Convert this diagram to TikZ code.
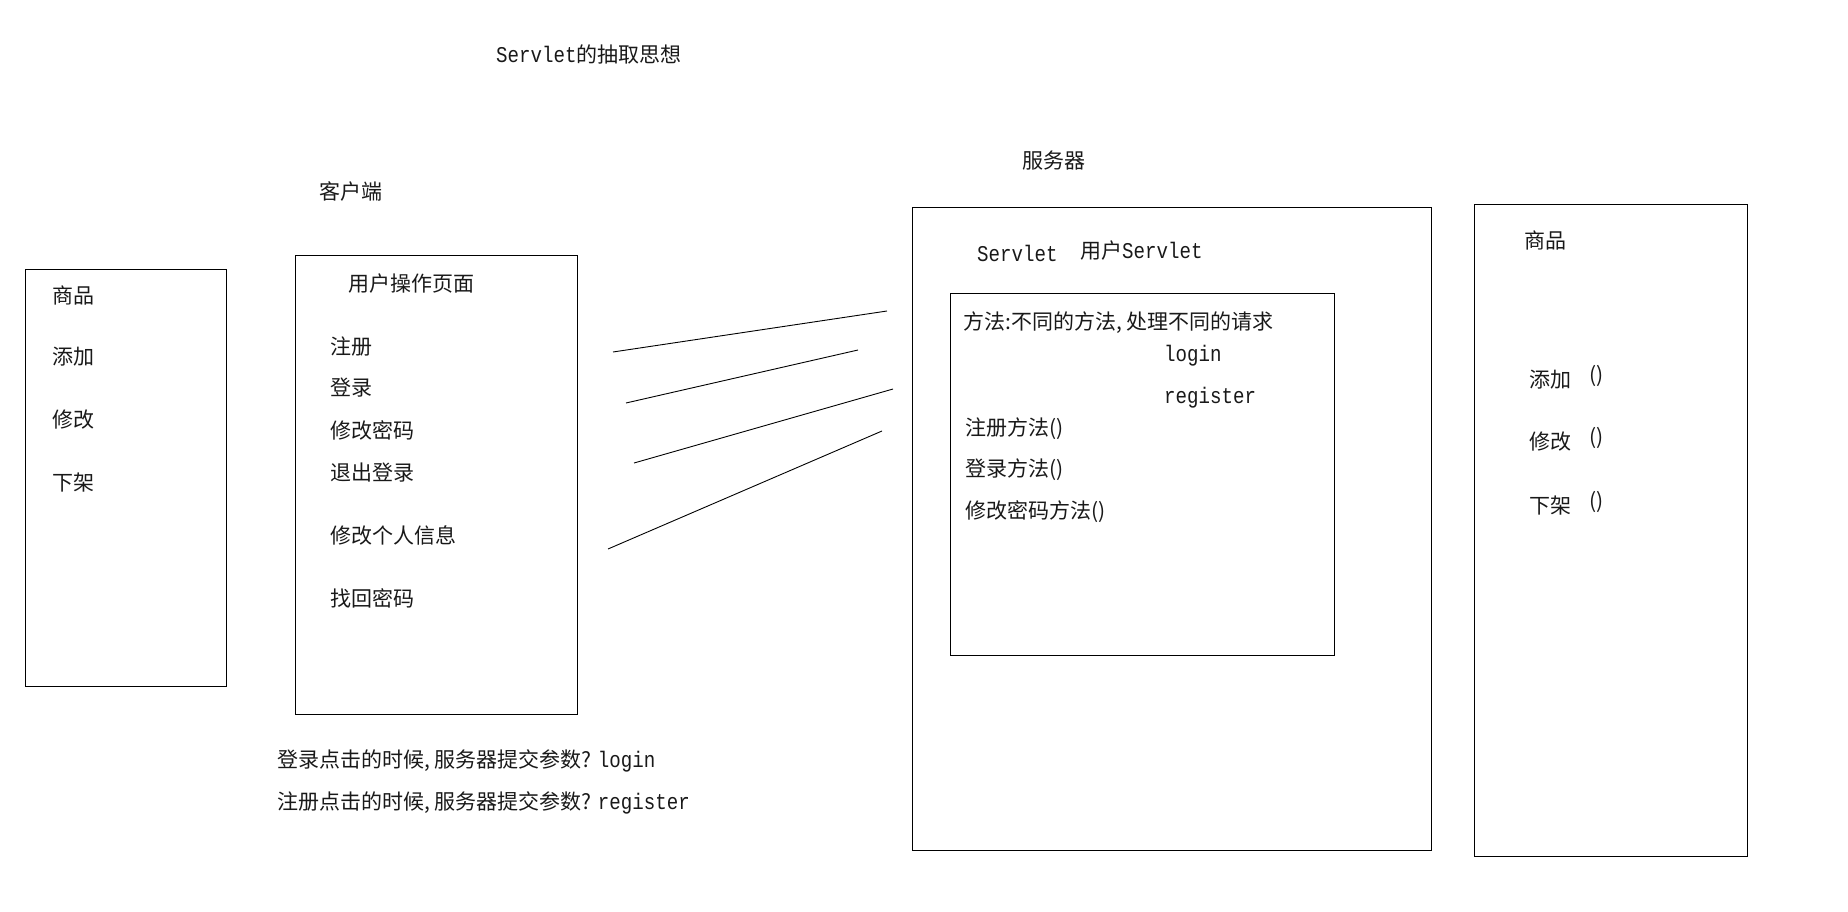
\documentclass[tikz,border=0pt]{standalone}
\usepackage{fontspec}
\setmainfont{Noto Sans CJK SC}
\newfontfamily\latmono[FakeStretch=0.85]{Liberation Mono}
\newcommand{\lm}[1]{{\latmono\fontsize{22.5}{26}\selectfont #1}}

\tikzset{
  frame/.style={draw=black, line width=1.3pt, minimum width=#1, inner sep=0pt, anchor=north west},
  txt/.style={anchor=west, inner sep=0pt, font=\fontsize{21}{25}\selectfont, text=black!90},
  link/.style={draw=black, line width=0.9pt},
}

\begin{document}
\begin{tikzpicture}[x=1pt, y=-1pt]
  \useasboundingbox (0,0) rectangle (1848,912);

  % heading and captions
  \node[txt] (title) at (496,54) {\lm{Servlet}的抽取思想};
  \node[txt] (client) at (319,191) {客户端};
  \node[txt] (server) at (1022,161) {服务器};

  % product list on the client side
  \node[frame=201pt, minimum height=417pt] (goods) at (25,269) {};
  \node[txt] (g1) at (52,295) {商品};
  \node[txt] (g2) at (52,357) {添加};
  \node[txt] (g3) at (52,420) {修改};
  \node[txt] (g4) at (52,483) {下架};

  % user operation page
  \node[frame=282pt, minimum height=459pt] (page) at (295,255) {};
  \node[txt] (p0) at (348,284) {用户操作页面};
  \node[txt] (p1) at (330,347) {注册};
  \node[txt] (p2) at (330,388) {登录};
  \node[txt] (p3) at (330,430) {修改密码};
  \node[txt] (p4) at (330,473) {退出登录};
  \node[txt] (p5) at (330,535) {修改个人信息};
  \node[txt] (p6) at (330,598) {找回密码};

  % requests going to the server
  \coordinate (l1a) at (613,352); \coordinate (l1b) at (887,311);
  \coordinate (l2a) at (626,403); \coordinate (l2b) at (858,350);
  \coordinate (l3a) at (634,463); \coordinate (l3b) at (893,389);
  \coordinate (l4a) at (608,549); \coordinate (l4b) at (882,431);
  \draw[link] (l1a) -- (l1b);
  \draw[link] (l2a) -- (l2b);
  \draw[link] (l3a) -- (l3b);
  \draw[link] (l4a) -- (l4b);

  % server with the user servlet
  \node[frame=519pt, minimum height=643pt] (srv) at (912,207) {};
  \node[txt] (s1) at (977,253) {\lm{Servlet}};
  \node[txt] (s2) at (1080,251) {用户\lm{Servlet}};
  \node[frame=384pt, minimum height=362pt] (methods) at (950,293) {};
  \node[txt] (m0) at (963,323) {方法:不同的方法, 处理不同的请求};
  \node[txt] (m1) at (1164,356) {\lm{login}};
  \node[txt] (m2) at (1164,398) {\lm{register}};
  \node[txt] (m3) at (965,429) {注册方法()};
  \node[txt] (m4) at (965,470) {登录方法()};
  \node[txt] (m5) at (965,512) {修改密码方法()};

  % product servlet
  \node[frame=273pt, minimum height=652pt] (prod) at (1474,204) {};
  \node[txt] (r0) at (1524,240) {商品};
  \node[txt] (r1) at (1529,380) {添加};
  \node[txt] (r1b) at (1589,376) {()};
  \node[txt] (r2) at (1529,442) {修改};
  \node[txt] (r2b) at (1589,438) {()};
  \node[txt] (r3) at (1529,506) {下架};
  \node[txt] (r3b) at (1589,502) {()};

  % notes below the page
  \node[txt] (n1) at (277,761) {登录点击的时候, 服务器提交参数? \lm{login}};
  \node[txt] (n2) at (277,803) {注册点击的时候, 服务器提交参数? \lm{register}};
\end{tikzpicture}
\end{document}
